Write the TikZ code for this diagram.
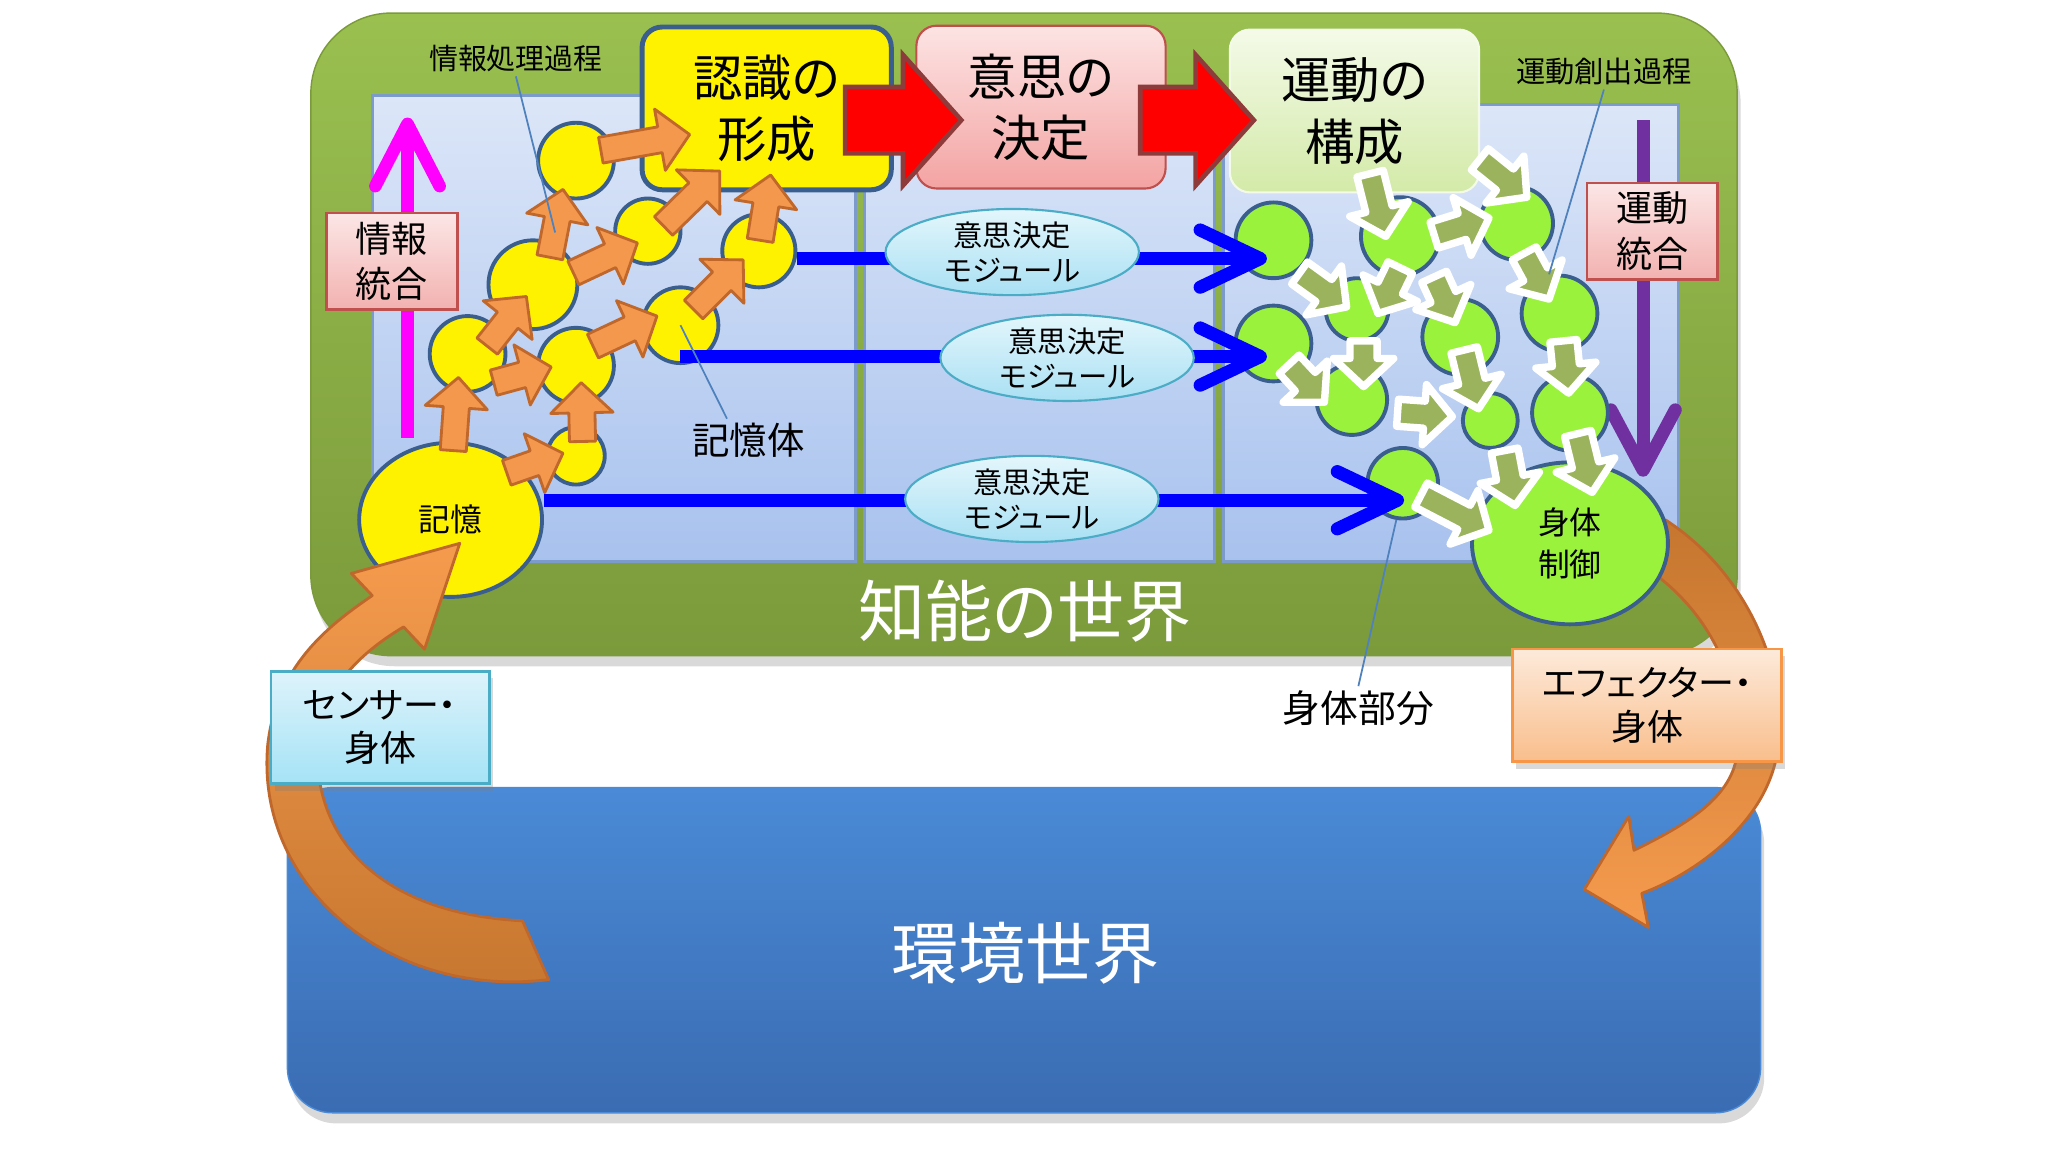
\documentclass[tikz,border=0pt]{standalone}
\usepackage{fontspec}
\setmainfont{Noto Sans CJK JP}[RawFeature=+palt]
\usetikzlibrary{calc,shapes.geometric,arrows.meta,shadows}

\definecolor{circline}{HTML}{3A5F8E}
\definecolor{limegreen}{HTML}{9BF23C}
\definecolor{arrolive}{HTML}{9AB35C}
\definecolor{arrorange}{HTML}{F3984D}
\definecolor{arrorangeline}{HTML}{C0682C}
\definecolor{darkred}{HTML}{8E3B3B}
\definecolor{modline}{HTML}{4BACC6}
\definecolor{modtop}{HTML}{E3F6FC}
\definecolor{modbot}{HTML}{A9E0F3}
\definecolor{pinkline}{HTML}{C0504D}
\definecolor{pinktop}{HTML}{FCE6E6}
\definecolor{pinkbot}{HTML}{F2B2B0}
\definecolor{leadblue}{HTML}{4F81BD}
\definecolor{worldtop}{HTML}{9AC050}
\definecolor{worldbot}{HTML}{7B9A3B}
\definecolor{envtop}{HTML}{4A8AD6}
\definecolor{envbot}{HTML}{3A6CB2}
\definecolor{paneltop}{HTML}{DCE6F8}
\definecolor{panelbot}{HTML}{A8C2EE}
\definecolor{panelline}{HTML}{7C9BCB}
\definecolor{magentaline}{HTML}{FF00FF}
\definecolor{purpleline}{HTML}{7030A0}
\definecolor{sensortop}{HTML}{DDF3FB}
\definecolor{sensorbot}{HTML}{A5E3F6}
\definecolor{sensorline}{HTML}{4BACC6}
\definecolor{efftop}{HTML}{FDEADA}
\definecolor{effbot}{HTML}{F9BE8C}
\definecolor{effline}{HTML}{F79646}
\definecolor{decidetop}{HTML}{FDE4E4}
\definecolor{decidebot}{HTML}{F3A3A2}
\definecolor{motortop}{HTML}{F4FAE8}
\definecolor{motorbot}{HTML}{D3EAA8}
\definecolor{curvelight}{HTML}{F59B4E}
\definecolor{curvedark}{HTML}{C6762F}

\tikzset{
	circr/.style={minimum size=#1*0.026cm},
	ellr/.style 2 args={minimum width=#1*0.026cm, minimum height=#2*0.026cm},
	ycirc/.style={circle, draw=circline, line width=1.1pt, fill=yellow, inner sep=0pt},
	gcirc/.style={circle, draw=circline, line width=1.1pt, fill=limegreen, inner sep=0pt},
	module/.style={ellipse, draw=modline, line width=0.6pt, top color=modtop, bottom color=modbot, inner sep=0pt, ellr={97}{30}, align=center, font=\fontsize{8.3}{10}\selectfont},
	bigbox/.style={rounded corners=0.2cm, align=center, inner sep=0pt, minimum width=2.48cm, minimum height=1.62cm, font=\fontsize{14}{17.4}\selectfont},
	pinkbox/.style={draw=pinkline, line width=0.8pt, top color=pinktop, bottom color=pinkbot, align=center, inner sep=0pt, minimum width=1.3cm, minimum height=0.96cm, font=\fontsize{10.2}{12.9}\selectfont},
	panel/.style={draw=panelline, line width=0.8pt, top color=paneltop, bottom color=panelbot},
	worldtext/.style={text=white, font=\fontsize{19}{22}\selectfont},
	lbl/.style={inner sep=1pt},
	leader/.style={draw=leadblue, line width=0.5pt},
	orangearr/.style={fill=arrorange, draw=arrorangeline, line width=0.8pt, line join=round},
	greenarr/.style={fill=arrolive, draw=white, line width=2.1pt, line join=round},
	redarr/.style={fill=red, draw=darkred, line width=1.3pt},
	curvearr/.style={draw=arrorangeline, line width=0.8pt, line join=round},
	blueline/.style={draw=blue, line width=0.13cm, -{Straight Barb[length=0.6cm,width=0.57cm,round]}},
	magline/.style={draw=magentaline, line width=0.125cm, -{Straight Barb[length=0.62cm,width=0.64cm,round]}},
	purline/.style={draw=purpleline, line width=0.13cm, -{Straight Barb[length=0.6cm,width=0.64cm,round]}},
	outbox/.style={align=center, inner sep=0pt, line width=0.8pt, font=\fontsize{10.2}{12.2}\selectfont, drop shadow={shadow xshift=1pt, shadow yshift=-2pt, opacity=0.3}}
}

% block arrow: style, from, to, half shaft, half head, head length
\newcommand{\blockarrow}[6]{%
	\coordinate (ba-s) at (#2);
	\coordinate (ba-e) at (#3);
	\coordinate (ba-h) at ($(ba-e)!#6!(ba-s)$);
	\draw[#1] ($(ba-s)!#4!90:(ba-e)$) -- ($(ba-h)!#4!-90:(ba-s)$) -- ($(ba-h)!#5!-90:(ba-s)$)
		-- (ba-e) -- ($(ba-h)!#5!90:(ba-s)$) -- ($(ba-h)!#4!90:(ba-s)$)
		-- ($(ba-s)!#4!-90:(ba-e)$) -- cycle;
}
\newcommand{\orangearrow}[2]{\blockarrow{orangearr}{#1}{#2}{0.13cm}{0.31cm}{0.3cm}}
\newcommand{\greenarrow}[2]{\blockarrow{greenarr}{#1}{#2}{0.135cm}{0.3cm}{0.28cm}}

\begin{document}
\begin{tikzpicture}[x=0.013cm, y=-0.013cm]
	\useasboundingbox (0,0) rectangle (1568,882);

	% the two worlds
	\draw[draw=worldbot, top color=worldtop, bottom color=worldbot, rounded corners=0.8cm, drop shadow={shadow xshift=1pt, shadow yshift=-3pt, opacity=0.3}] (238,10) rectangle (1330,502);
	\draw[draw=envtop, top color=envtop, bottom color=envbot, rounded corners=0.45cm, drop shadow={shadow xshift=1pt, shadow yshift=-3pt, opacity=0.3}] (220,603) rectangle (1348,852);
	\node[worldtext] (chinou) at (785,468) {知能の世界};
	\node[worldtext] (kankyo) at (785,730) {環境世界};

	% panels
	\draw[panel] (285,73) rectangle (655,430);
	\draw[panel] (662,73) rectangle (930,430);
	\draw[panel] (937,80) rectangle (1285,430);

	% integration arrows
	\coordinate (mag-bot) at (312,335);
	\coordinate (mag-top) at (312,90);
	\draw[magline] (mag-bot) -- (mag-top);
	\node[pinkbox] (infoint) at (300,200) {情報\\統合};
	\coordinate (pur-top) at (1258,92);
	\coordinate (pur-bot) at (1258,365);
	\draw[purline] (pur-top) -- (pur-bot);
	\node[pinkbox] (motint) at (1265,177) {運動\\統合};

	% stages
	\node[bigbox, fill=yellow, draw=circline, line width=1.4pt] (recog) at (587,83) {認識の\\形成};
	\node[bigbox, top color=decidetop, bottom color=decidebot, draw=pinkline, line width=0.6pt] (decide) at (797,82) {意思の\\決定};
	\node[bigbox, top color=motortop, bottom color=motorbot, draw=motortop, line width=0.6pt] (motor) at (1037,85) {運動の\\構成};

	% memory bodies
	\node[ycirc, circr=29] (y1) at (441,123) {};
	\node[ycirc, circr=25] (y2) at (496,177) {};
	\node[ycirc, circr=28] (y3) at (581,192) {};
	\node[ycirc, circr=34] (y4) at (408,218) {};
	\node[ycirc, circr=29] (y5) at (358,271) {};
	\node[ycirc, circr=29] (y6) at (441,280) {};
	\node[ycirc, circr=29] (y7) at (521,249) {};
	\node[ycirc, circr=22] (y8) at (441,349) {};
	\node[ycirc, ellipse, ellr={70}{59}, font=\fontsize{9}{11}\selectfont] (memory) at (345,398) {記憶};

	% body parts
	\node[gcirc, circr=29] (g1) at (975,184) {};
	\node[gcirc, circr=29] (g2) at (975,263) {};
	\node[gcirc, circr=30] (g3) at (1072,181) {};
	\node[gcirc, circr=24] (g4) at (1039,237) {};
	\node[gcirc, circr=28] (g5) at (1161,171) {};
	\node[gcirc, circr=29] (g6) at (1194,240) {};
	\node[gcirc, circr=29] (g7) at (1118,258) {};
	\node[gcirc, circr=27] (g8) at (1035,306) {};
	\node[gcirc, circr=21] (g9) at (1141,322) {};
	\node[gcirc, circr=29] (g10) at (1202,316) {};
	\node[gcirc, circr=27] (g11) at (1074,370) {};

	% decision paths
	\coordinate (tip1) at (970,198);
	\coordinate (tip2) at (970,273);
	\coordinate (tip3) at (1075,383);
	\draw[blueline] (y3.east |- tip1) -- (tip1);
	\draw[blueline] (y7.center |- tip2) -- (tip2);
	\draw[blueline] (memory.east |- tip3) -- (tip3);
	\node[module] (mod1) at (775,193) {意思決定\\モジュール};
	\node[module] (mod2) at (817,274) {意思決定\\モジュール};
	\node[module] (mod3) at (790,382) {意思決定\\モジュール};

	% information processing
	\orangearrow{460,115}{528,103}
	\orangearrow{508,173}{551,131}
	\orangearrow{582,184}{590,134}
	\orangearrow{421,197}{431,145}
	\orangearrow{439,209}{488,186}
	\orangearrow{373,265}{403,227}
	\orangearrow{378,293}{422,281}
	\orangearrow{454,265}{503,242}
	\orangearrow{531,237}{569,199}
	\orangearrow{347,345}{351,289}
	\orangearrow{388,362}{431,347}
	\orangearrow{446,338}{445,293}

	% stage arrows
	\blockarrow{redarr}{647,92}{736,92}{0.33cm}{0.65cm}{0.58cm}
	\blockarrow{redarr}{873,92}{960,92}{0.33cm}{0.65cm}{0.58cm}

	% sensing
	\draw[curvearr, top color=curvelight, bottom color=curvedark] (420,750) .. controls (300,765) and (195,680) .. (205,570) .. controls (212,510) and (250,480) .. (285,456) -- (269,439) -- (352,416) -- (325,497) -- (309,480) .. controls (275,500) and (245,530) .. (243,570) .. controls (240,650) and (300,700) .. (400,705) -- cycle;
	\node[outbox, draw=sensorline, top color=sensortop, bottom color=sensorbot, minimum width=2.17cm, minimum height=1.12cm] (sensor) at (291,557) {センサー・\\身体};

	% acting
	\draw[curvearr, top color=curvedark, bottom color=curvelight] (1275,398) .. controls (1340,440) and (1372,520) .. (1360,580) .. controls (1350,630) and (1300,668) .. (1257,684) -- (1262,710) -- (1213,681) -- (1247,625) -- (1251,651) .. controls (1290,632) and (1328,610) .. (1330,575) .. controls (1334,510) and (1300,462) .. (1262,436) -- cycle;
	\node[gcirc, ellipse, ellr={75}{62}, align=center, font=\fontsize{9}{11.8}\selectfont] (body) at (1202,416) {身体\\制御};
	\node[outbox, draw=effline, top color=efftop, bottom color=effbot, minimum width=2.68cm, minimum height=1.12cm] (effector) at (1261,540) {エフェクター・\\身体};

	% motor creation
	\greenarrow{1049,133}{1061,181}
	\greenarrow{1133,122}{1169,151}
	\greenarrow{1098,180}{1140,167}
	\greenarrow{1167,194}{1186,229}
	\greenarrow{995,209}{1031,235}
	\greenarrow{1072,205}{1055,240}
	\greenarrow{1098,212}{1114,247}
	\greenarrow{1044,261}{1044,296}
	\greenarrow{987,279}{1014,308}
	\greenarrow{1121,268}{1132,313}
	\greenarrow{1070,316}{1112,319}
	\greenarrow{1197,261}{1201,301}
	\greenarrow{1152,345}{1160,387}
	\greenarrow{1208,332}{1219,377}
	\greenarrow{1088,379}{1140,406}

	% labels and leaders
	\node[lbl, font=\fontsize{8.2}{10}\selectfont] (info) at (395,45) {情報処理過程};
	\coordinate (info-end) at (425,178);
	\draw[leader] (info.south) -- (info-end);
	\node[lbl, font=\fontsize{10.6}{12}\selectfont] (kiokutai) at (573,337) {記憶体};
	\draw[leader] (y7.center) -- (kiokutai.135);
	\node[lbl, font=\fontsize{8.3}{10}\selectfont] (sodo) at (1228,55) {運動創出過程};
	\coordinate (sodo-end) at (1186,210);
	\draw[leader] (sodo.south) -- (sodo-end);
	\node[lbl, font=\fontsize{10.7}{12}\selectfont] (bubun) at (1040,542) {身体部分};
	\draw[leader] (g11.260) -- (bubun.north);
\end{tikzpicture}
\end{document}
